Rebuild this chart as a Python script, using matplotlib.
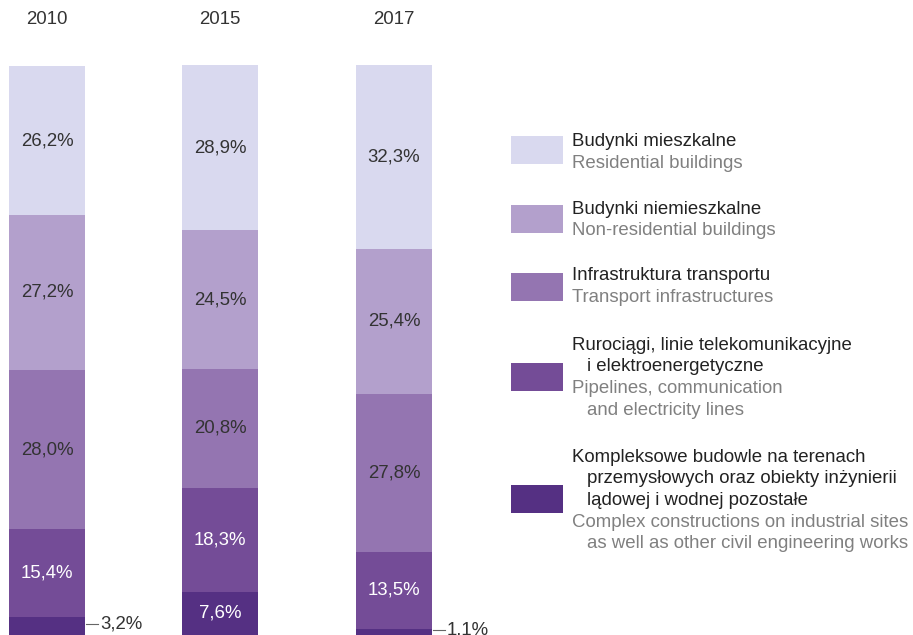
import numpy as np
import matplotlib
matplotlib.use("Agg")
from matplotlib import pyplot as plt
from matplotlib.patches import Rectangle

plt.rcParams['font.family'] = ['Liberation Sans', 'DejaVu Sans']

years = ["2010", "2015", "2017"]
categories_pl = ["Kompleksowe budowle na terenach\n  przemysłowych oraz obiekty inżynierii\n  lądowej i wodnej pozostałe",
                 "Rurociągi, linie telekomunikacyjne\n  i elektroenergetyczne",
                 "Infrastruktura transportu",
                 "Budynki niemieszkalne",
                 "Budynki mieszkalne"]
categories_en = ["Complex constructions on industrial sites\n  as well as other civil engineering works",
                 "Pipelines, communication\n  and electricity lines",
                 "Transport infrastructures",
                 "Non-residential buildings",
                 "Residential buildings"]
# bottom -> top order
complex_works = [3.2, 7.6, 1.1]
pipelines = [15.4, 18.3, 13.5]
transport = [28.0, 20.8, 27.8]
non_residential = [27.2, 24.5, 25.4]
residential = [26.2, 28.9, 32.3]

series = [complex_works, pipelines, transport, non_residential, residential]
colors = ["#553083", "#744c97", "#9475b1", "#b3a0cc", "#d9d9ef"]
label_colors = ["white", "white", "#333333", "#333333", "#333333"]

W, H = 913, 635
fig = plt.figure(figsize=(W / 100, H / 100), dpi=100)
ax = fig.add_axes([0, 0, 1, 1])
ax.set_xlim(0, W)
ax.set_ylim(0, 100 * H / 569)
ax.axis("off")

x = np.array([47, 220, 394])
bar_w = 76
fs = 13.4
bottom = np.zeros(3)
for vals, col, tcol in zip(series, colors, label_colors):
    vals = np.array(vals)
    ax.bar(x, vals, bar_w, bottom=bottom, color=col, linewidth=0)
    for xi, b, v in zip(x, bottom, vals):
        txt = f"{v:.1f}%".replace(".", ",")
        if v < 5:
            # small segment: label outside with leader line
            yc = b + v / 2 + 0.3
            ax.plot([xi + bar_w / 2 + 1, xi + bar_w / 2 + 13], [yc, yc], color="#666666", lw=0.8)
            ax.text(xi + bar_w / 2 + 15, yc, txt, ha="left", va="center",
                    fontsize=fs, color="#333333")
        else:
            ax.text(xi, b + v / 2, txt, ha="center", va="center",
                    fontsize=fs, color=tcol)
    bottom += vals

# overlay axes in pixel coordinates for titles and legend
lax = fig.add_axes([0, 0, 1, 1])
lax.set_xlim(0, W)
lax.set_ylim(H, 0)
lax.axis("off")

for xi, yr in zip(x, years):
    lax.text(xi, 19, yr, ha="center", va="center", fontsize=fs, color="#333333")

swatch_y = [485, 363, 273, 205, 136]
text_y = [457, 345, 276, 209, 142]
for col, sy, ty, pl, en in zip(colors, swatch_y, text_y, categories_pl, categories_en):
    lax.add_patch(Rectangle((511, sy), 52, 28, color=col, linewidth=0))
    lines = pl.split("\n") + en.split("\n")
    n_pl = len(pl.split("\n"))
    for i, line in enumerate(lines):
        indent = 15 if line.startswith("  ") else 0
        lax.text(572 + indent, ty + i * 21.7, line.strip(), ha="left", va="center",
                 fontsize=fs, color="#222222" if i < n_pl else "#808080")

fig.savefig("out.png", dpi=100)
